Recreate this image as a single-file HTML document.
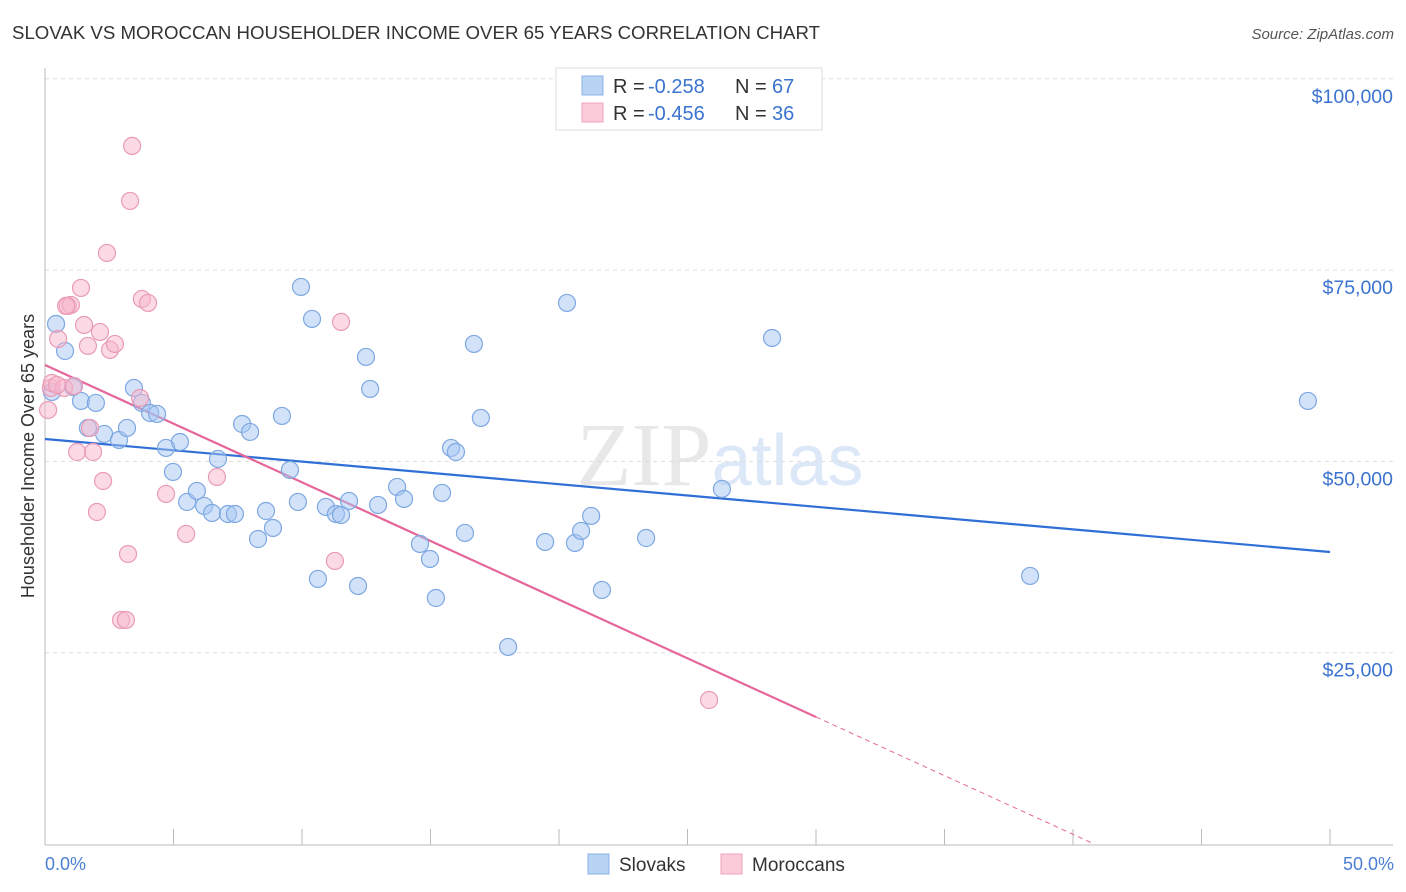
<!DOCTYPE html>
<html><head><meta charset="utf-8">
<style>
body{margin:0;background:#fff;font-family:"Liberation Sans",sans-serif;}
svg{display:block}
</style></head>
<body>
<svg id="chart" width="1406" height="892">
<text x="12" y="39" font-size="18" fill="#333" textLength="808" lengthAdjust="spacingAndGlyphs">SLOVAK VS MOROCCAN HOUSEHOLDER INCOME OVER 65 YEARS CORRELATION CHART</text>
<text x="1394" y="39" font-size="15" fill="#555" font-style="italic" text-anchor="end">Source: ZipAtlas.com</text>
<text x="720" y="485" font-size="90" fill="#e8e8e8" text-anchor="middle" font-family="Liberation Serif">ZIP<tspan fill="#dce8f7" font-family="Liberation Sans" font-size="72">atlas</tspan></text>
<g id="grid"></g>
<g id="axes"></g>
<g id="lines"></g>
<g id="pts"></g>
<text transform="translate(34,456) rotate(-90)" font-size="18" fill="#333" text-anchor="middle">Householder Income Over 65 years</text>
<text x="45" y="870" font-size="18" fill="#4a7fd4">0.0%</text>
<text x="1394" y="870" font-size="18" fill="#4a7fd4" text-anchor="end">50.0%</text>
<g>
<rect x="556" y="68" width="266" height="62" fill="#fff" stroke="#ddd"/>
<rect x="582" y="76" width="21" height="19" fill="#b9d3f5" stroke="#8db3e8"/>
<rect x="582" y="103" width="21" height="19" fill="#fbcbd9" stroke="#eea5bd"/>
<text x="613" y="93" font-size="20" fill="#333">R = <tspan x="648" fill="#3b73d0">-0.258</tspan><tspan x="735">N = </tspan><tspan x="772" fill="#3b73d0">67</tspan></text>
<text x="613" y="120" font-size="20" fill="#333">R = <tspan x="648" fill="#3b73d0">-0.456</tspan><tspan x="735">N = </tspan><tspan x="772" fill="#3b73d0">36</tspan></text>
</g>
<g>
<rect x="588" y="854" width="21" height="20" fill="#b9d3f5" stroke="#8db3e8"/>
<text x="619" y="871" font-size="19" fill="#333">Slovaks</text>
<rect x="721" y="854" width="21" height="20" fill="#fbcbd9" stroke="#eea5bd"/>
<text x="752" y="871" font-size="19" fill="#333">Moroccans</text>
</g>
</svg>
<script>
const yTicks=[25000,50000,75000,100000];
const yTickLabels=["$25,000","$50,000","$75,000","$100,000"];
const blueX=[0.43,0.78,1.09,1.40,1.98,1.67,2.30,2.88,3.19,3.46,3.77,4.09,4.36,5.25,4.71,4.98,5.53,5.91,6.19,6.50,7.12,7.39,6.73,7.67,7.98,8.29,8.60,8.87,9.22,9.53,9.84,9.96,10.39,10.62,10.93,11.32,11.52,11.83,12.18,12.49,12.65,12.96,13.70,13.97,14.59,14.98,15.21,15.45,15.80,15.99,16.34,16.69,16.96,18.02,19.46,20.31,20.62,20.86,21.25,21.67,23.39,26.34,28.29,38.33,49.14,0.27];
const blueY=[67960,64430,59730,57900,57640,54370,53590,52800,54370,59600,57640,56330,56200,52540,51760,48620,44700,46140,44180,43260,43130,43130,50320,54890,53850,39860,43520,41300,55940,48880,44700,72800,68620,34640,44050,43130,43000,44830,33720,63650,59470,44310,46660,45090,39210,37250,32150,45880,51760,51230,40650,65350,55680,25750,39470,70710,39340,40910,42870,33200,39990,46400,66130,35030,57900,59080];
const pinkX=[0.23,0.12,0.27,0.51,0.74,0.89,1.01,1.25,1.40,1.52,1.67,1.87,2.02,2.14,2.26,2.41,2.53,2.72,2.96,3.15,3.23,3.31,3.39,3.77,4.01,4.71,5.49,6.69,11.28,11.52,25.84,1.13,1.75,0.47,3.70,0.82];
const pinkY=[59600,56720,60250,66000,59600,70320,70450,51230,72670,67830,65090,51230,43390,66920,47440,77240,64570,65350,29280,29280,37900,84040,91230,71230,70710,45750,40520,47970,36990,68230,18820,59860,54370,59990,58290,70320];
const blueTrend=[52930,38160]; // at 0% and 50%
const pinkTrend=[62600,16600]; // at 0% and 30%
const pinkSolidEnd=30;

const X=v=>45+v/50*1285;
const Y=v=>844-v/25000*191.3;
const NS="http://www.w3.org/2000/svg";
function mk(tag,attrs,parent){const e=document.createElementNS(NS,tag);for(const k in attrs)e.setAttribute(k,attrs[k]);document.getElementById(parent).appendChild(e);return e;}

yTicks.forEach((t,i)=>{
  const g=mk('line',{x1:45,x2:1393,y1:Y(t),y2:Y(t),stroke:'#ddd','stroke-dasharray':'4,4'},'grid');
  
  
  const tx=mk('text',{x:1393,y:Y(t)+24,'font-size':19.5,fill:'#3b73d0','text-anchor':'end'},'grid');
  tx.textContent=yTickLabels[i];
  
  
});
let a=mk('line',{x1:45,x2:45,y1:68,y2:845,stroke:'#bbb'},'axes');


a=mk('line',{x1:45,x2:1393,y1:845,y2:845,stroke:'#bbb'},'axes');


for(let p=0;p<=50;p+=5){
  const t=mk('line',{x1:X(p),x2:X(p),y1:829,y2:845,stroke:'#bbb'},'axes');
  
  
}
function dots(xs,ys,fill,stroke,name){
  xs.forEach((x,i)=>{
    const c=mk('circle',{cx:X(x),cy:Y(ys[i]),r:8.5,fill:fill,stroke:stroke,'stroke-width':1.2},'pts');
    
    
  });
}
dots(blueX,blueY,'rgba(165,198,242,0.5)','#7ea8e2','slovak-point');
dots(pinkX,pinkY,'rgba(247,182,204,0.5)','#e99bb6','moroccan-point');
let l=mk('line',{x1:X(0),y1:Y(blueTrend[0]),x2:X(50),y2:Y(blueTrend[1]),stroke:'#2f6fd6','stroke-width':2.2},'lines');


l=mk('line',{x1:X(0),y1:Y(pinkTrend[0]),x2:X(pinkSolidEnd),y2:Y(pinkTrend[1]),stroke:'#e4669a','stroke-width':2.2},'lines');


const slope=(pinkTrend[1]-pinkTrend[0])/pinkSolidEnd;
const zeroX=-pinkTrend[0]/slope;
l=mk('line',{x1:X(pinkSolidEnd),y1:Y(pinkTrend[1]),x2:X(zeroX),y2:Y(0),stroke:'#e4669a','stroke-width':1,'stroke-dasharray':'5,4'},'lines');


</script>
</body></html>
